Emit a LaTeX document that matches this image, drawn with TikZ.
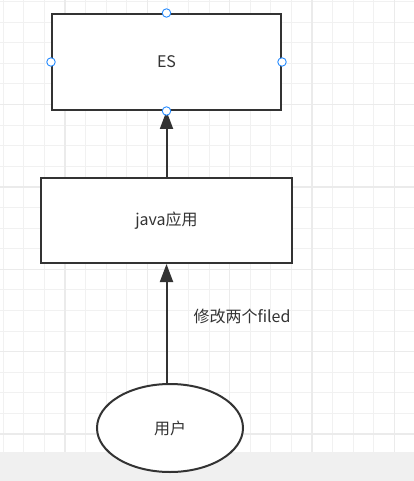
\documentclass[tikz,border=0pt]{standalone}
\usepackage{fontspec}
\setmainfont{Noto Sans CJK SC}
\usetikzlibrary{arrows.meta, positioning, shapes.geometric}
\definecolor{boxgray}{RGB}{51,51,51}
\definecolor{handleblue}{RGB}{41,141,255}
\definecolor{gridminor}{RGB}{241,241,241}
\definecolor{gridmajor}{RGB}{235,235,235}
\definecolor{stripgray}{RGB}{240,240,240}
\tikzset{
  box/.style={draw=boxgray, line width=2pt, fill=white, text=boxgray, font=\fontsize{16}{18}\selectfont},
  userbox/.style={ellipse, draw=boxgray, line width=2pt, fill=white, text=boxgray, font=\fontsize{16}{18}\selectfont},
  handle/.style={circle, draw=handleblue, fill=white, line width=0.9pt, minimum size=8.5pt, inner sep=0pt},
  flow/.style={draw=boxgray, line width=2pt, -{Triangle[length=18pt, width=13pt]}},
  minorline/.style={gridminor, line width=1pt},
  majorline/.style={gridmajor, line width=1.4pt}
}

\begin{document}
\begin{tikzpicture}[x=1pt, y=-1pt]
  \useasboundingbox (0,0) rectangle (414,481);
  % background grid
  \fill[white] (0,0) rectangle (414,481);
  \foreach \k in {0,...,19} \draw[minorline] ({3+20.6*\k},0) -- ({3+20.6*\k},452);
  \foreach \k in {0,...,21} \draw[minorline] (0,{1.5+20.6*\k}) -- (414,{1.5+20.6*\k});
  \foreach \k in {3,7,11,15,19} \draw[majorline] ({3+20.6*\k},0) -- ({3+20.6*\k},452);
  \foreach \k in {5,9,13,17,21} \draw[majorline] (0,{1.5+20.6*\k}) -- (414,{1.5+20.6*\k});
  \fill[stripgray] (0,452) rectangle (414,481);

  % nodes
  \node[box, minimum width=229pt, minimum height=96pt] (es) at (166.5,62) {ES};
  \node[box, minimum width=251pt, minimum height=85pt] (java) at (166.5,220.5) {java应用};
  \node[userbox, minimum width=146pt, minimum height=88pt] (user) at (170,428) {用户};
  \node[anchor=west, text=boxgray, font=\fontsize{16}{18}\selectfont] (edit) at (190,316) {修改两个filed};

  % connectors
  \draw[flow] (java.south |- user.north) -- (java.south);
  \draw[flow] (java.north) -- (es.south);

  % selection handles
  \node[handle] (hn) at (es.north) {};
  \node[handle] (hs) at (es.south) {};
  \node[handle] (hw) at (es.west) {};
  \node[handle] (he) at (es.east) {};
\end{tikzpicture}
\end{document}
